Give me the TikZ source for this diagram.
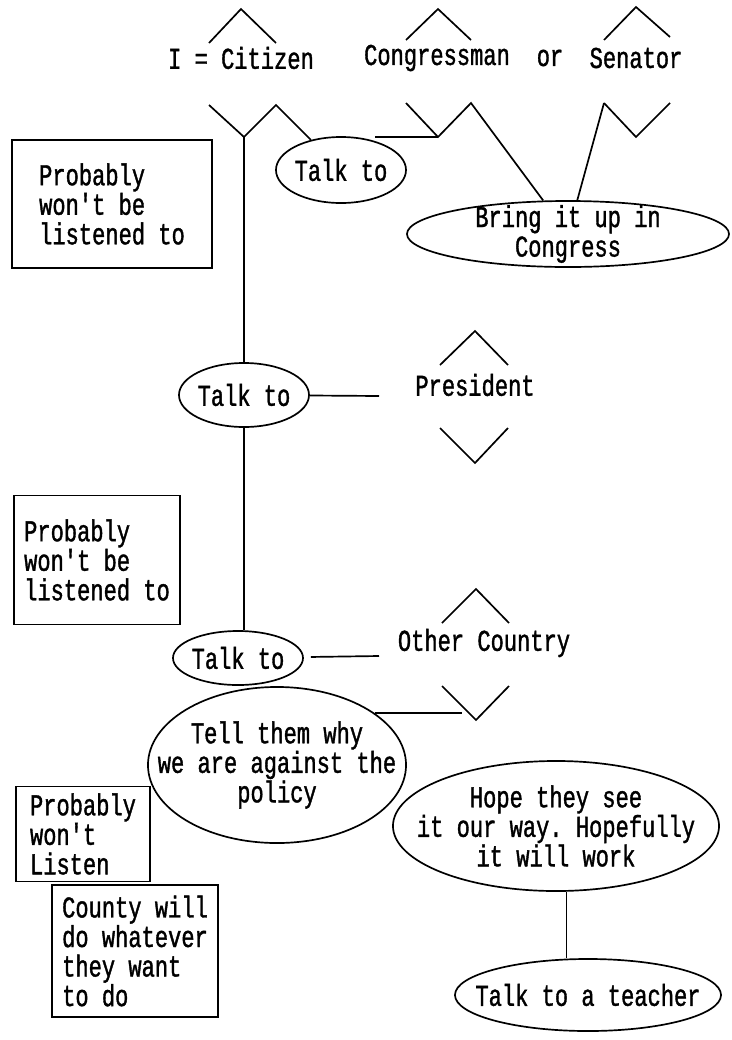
\documentclass[tikz,border=0pt]{standalone}
\usepackage{fontspec}
\setmonofont[FakeStretch=0.73, FakeBold=1.2]{Liberation Mono}
\usetikzlibrary{shapes.geometric}

\tikzset{
  every node/.style={font=\ttfamily\fontsize{21.5}{21}\selectfont},
  bubble/.style={draw, ellipse, inner xsep=-3cm, inner ysep=-2cm, align=center},
  note/.style={draw, rectangle, inner sep=0pt, align=left},
}

\begin{document}
\begin{tikzpicture}[x=0.025cm, y=-0.025cm, line width=1.2pt]
  \useasboundingbox (0,0) rectangle (731,1040);

  % who talks to whom
  \node (cit) at (241,58) {I = Citizen};
  \node (cong) at (437,58) {Congressman};
  \node (alt) at (550,58) {or};
  \node (sen) at (636,58) {Senator};
  \draw (209,43) -- (241,9) -- (276,43);
  \draw (406,40) -- (438,9) -- (471,40);
  \draw (604,40) -- (636,7) -- (670,37);
  \coordinate (cv) at (244,137);
  \coordinate (gv) at (438,137);
  \coordinate (sv) at (636,137);
  \coordinate (sl) at (604,103);

  \node[bubble, minimum width=3.25cm, minimum height=1.65cm] (talkA) at (341,170) {Talk to};
  \node[bubble, minimum width=8.05cm, minimum height=1.65cm] (bring) at (568,234) {Bring it up in\\Congress};
  \node[note, minimum width=5cm, minimum height=3.2cm] (boxA) at (112,204) {Probably\\won't be\\listened to};

  \draw (209,105) -- (cv) -- (276,105) -- (talkA);
  \draw (406,103) -- (gv) -- (471,103) -- (bring);
  \draw (gv) -- (talkA.40 |- gv);
  \draw (sl) -- (sv) -- (670,103);
  \draw (sl) -- (bring);

  % president
  \node[bubble, minimum width=3.25cm, minimum height=1.6cm] (talkB) at (244,395) {Talk to};
  \node (pres) at (475,385) {President};
  \draw (440,365) -- (475,331) -- (508,365);
  \draw (440,428) -- (475,463) -- (508,428);
  \coordinate (pl) at (379,396);
  \draw (talkB) -- (pl);
  \draw (cv) -- (talkB);
  \node[note, minimum width=4.15cm, minimum height=3.23cm] (boxB) at (97,560) {Probably\\won't be\\listened to};

  % other country
  \node[bubble, minimum width=3.25cm, minimum height=1.35cm] (talkC) at (238,658) {Talk to};
  \draw (talkB) -- (talkB |- talkC.north);
  \coordinate (ol) at (379,656);
  \draw[shorten <=5pt] (talkC) -- (ol);
  \node (other) at (484,643) {Other Country};
  \draw (442,623) -- (476,589) -- (509,623);
  \draw (442,686) -- (476,720) -- (509,686);
  \coordinate (ov) at (462,713);

  \node[bubble, minimum width=6.45cm, minimum height=3.9cm] (tell) at (277,765) {Tell them why\\we are against the\\policy};
  \draw (tell.28) -- (tell.28 -| ov);
  \node[bubble, minimum width=8.15cm, minimum height=3.25cm] (hope) at (556,826) {Hope they see\\it our way. Hopefully\\it will work};
  \node[bubble, minimum width=6.65cm, minimum height=1.8cm] (teacher) at (588,995) {Talk to a teacher};
  \draw (hope.-81) -- (hope.-81 |- teacher.north);

  \node[note, minimum width=3.35cm, minimum height=2.38cm] (boxC) at (83,834) {Probably\\won't\\Listen};
  \node[note, minimum width=4.15cm, minimum height=3.3cm] (boxD) at (135,951) {County will\\do whatever\\they want\\to do};
\end{tikzpicture}
\end{document}
